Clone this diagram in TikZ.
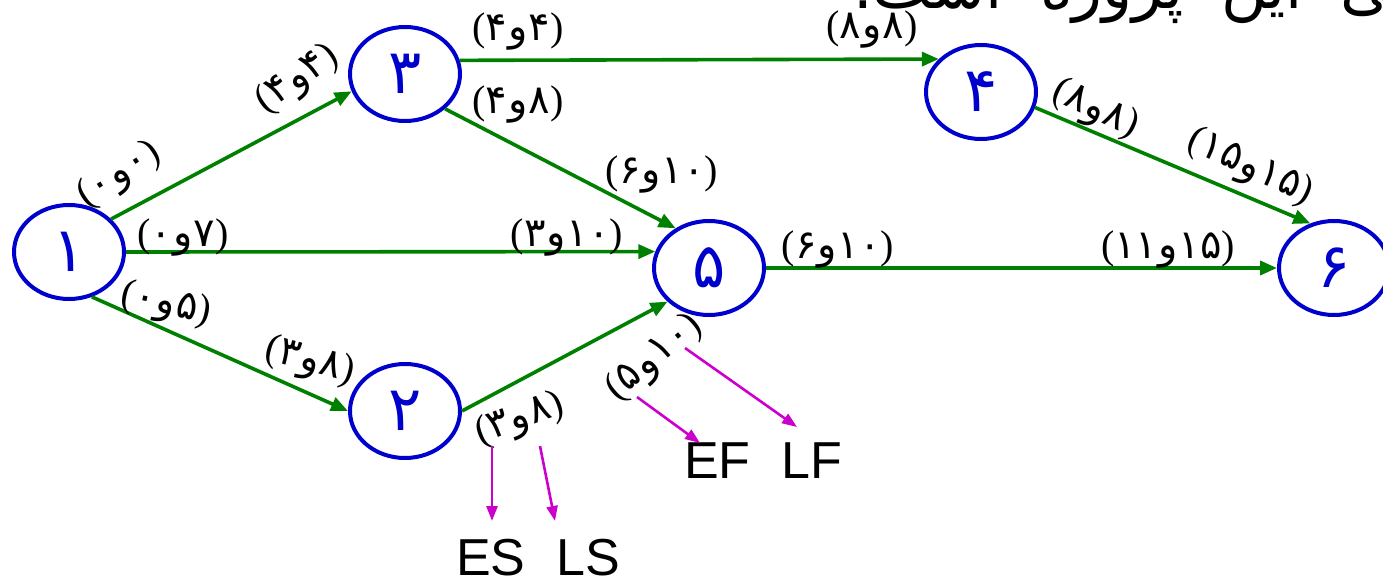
\documentclass[tikz,border=0pt]{standalone}
\usepackage{fontspec}
\setmainfont{Liberation Sans}
\newfontfamily\arabicfont[Script=Arabic]{DejaVu Sans}
\newfontfamily\parfont{Liberation Serif}
\usetikzlibrary{arrows.meta,shapes.geometric}
\TeXXeTstate=1
\definecolor{nodeblue}{RGB}{0,0,204}
\definecolor{edgegreen}{RGB}{0,128,0}
\definecolor{annmag}{RGB}{204,0,204}
\newcommand{\lab}[2]{\hbox{\parfont(}\hbox{#1}\hbox{\kern1pt و\kern1pt}\hbox{#2}\hbox{\parfont)}}
\tikzset{
  circ/.style={ellipse, draw=nodeblue, line width=4pt, minimum width=110pt, minimum height=94pt,
    inner sep=0pt, text=nodeblue, font=\arabicfont\fontsize{62}{64}\selectfont},
  lbl/.style={font=\arabicfont\fontsize{40}{42}\selectfont, inner sep=0pt},
  garr/.style={draw=edgegreen, line width=3.6pt, -{Triangle[length=17pt,width=14pt]}},
  marr/.style={draw=annmag, line width=2.6pt, -{Triangle[length=15pt,width=11pt]}},
  ann/.style={font=\fontsize{52}{54}\selectfont, inner sep=0pt, anchor=base west}
}
\begin{document}
\begin{tikzpicture}[x=1pt,y=-1pt]
\useasboundingbox (0,0) rectangle (1383,577);
% nodes
\node[circ] (n1) at (69,252) {۱};
\node[circ] (n3) at (405,74) {۳};
\node[circ] (n4) at (981,92) {۴};
\node[circ] (n5) at (709,268) {۵};
\node[circ] (n2) at (405,411) {۲};
\node[circ] (n6) at (1334,268) {۶};
% edges
\draw[garr] (n1.38) -- (n3.198);
\draw[garr] (n3.14) -- (n4.142);
\draw[garr] (n3.-41) -- (n5.130);
\draw[garr] (n1.0) -- (n5.163);
\draw[garr] (n1.-63) -- (n2.180);
\draw[garr] (n2.0) -- (n5.219);
\draw[garr] (n5.0) -- (n6.180);
\draw[garr] (n4.-16) -- (n6.118);
% labels
\node[lbl,rotate=33] (l1) at (120,175) {\lab{۰}{۰}};
\node[lbl,rotate=35] (l2) at (298,80) {\lab{۴}{۴}};
\node[lbl] (l3) at (518,32) {\lab{۴}{۴}};
\node[lbl] (l4) at (872,30) {\lab{۸}{۸}};
\node[lbl] (l5) at (518,105) {\lab{۴}{۸}};
\node[lbl] (l6) at (662,175) {\lab{۶}{۱۰}};
\node[lbl] (l7) at (183,238) {\lab{۰}{۷}};
\node[lbl] (l8) at (567,238) {\lab{۳}{۱۰}};
\node[lbl,rotate=-12] (l9) at (166,305) {\lab{۰}{۵}};
\node[lbl,rotate=-15] (l10) at (310,362) {\lab{۳}{۸}};
\node[lbl,rotate=20] (l11) at (520,420) {\lab{۳}{۸}};
\node[lbl,rotate=40] (l12) at (655,358) {\lab{۵}{۱۰}};
\node[lbl] (l13) at (838,250) {\lab{۶}{۱۰}};
\node[lbl] (l14) at (1168,250) {\lab{۱۱}{۱۵}};
\node[lbl,rotate=-25] (l15) at (1095,110) {\lab{۸}{۸}};
\node[lbl,rotate=-25] (l16) at (1250,168) {\lab{۱۵}{۱۵}};
% annotations
\node[ann] (es) at (456,575) {ES};
\node[ann] (ls) at (556,575) {LS};
\node[ann] (ef) at (684,478) {EF};
\node[ann] (lf) at (781,478) {LF};
\coordinate (c1) at (492,446); \coordinate (c2) at (492,521);
\coordinate (c3) at (540,446); \coordinate (c4) at (555,521);
\coordinate (c5) at (637,397); \coordinate (c6) at (700,443);
\coordinate (c7) at (685,348); \coordinate (c8) at (797,427);
\draw[marr] (c1) -- (c2);
\draw[marr] (c3) -- (c4);
\draw[marr] (c5) -- (c6);
\draw[marr] (c7) -- (c8);
% cut-off title text
\node[anchor=base east, inner sep=0pt, font=\arabicfont\fontsize{62}{64}\selectfont] (title) at (1392,9) {\spaceskip=0.6em\beginR ‍ی این پروژه است.\endR};
\end{tikzpicture}
\end{document}
